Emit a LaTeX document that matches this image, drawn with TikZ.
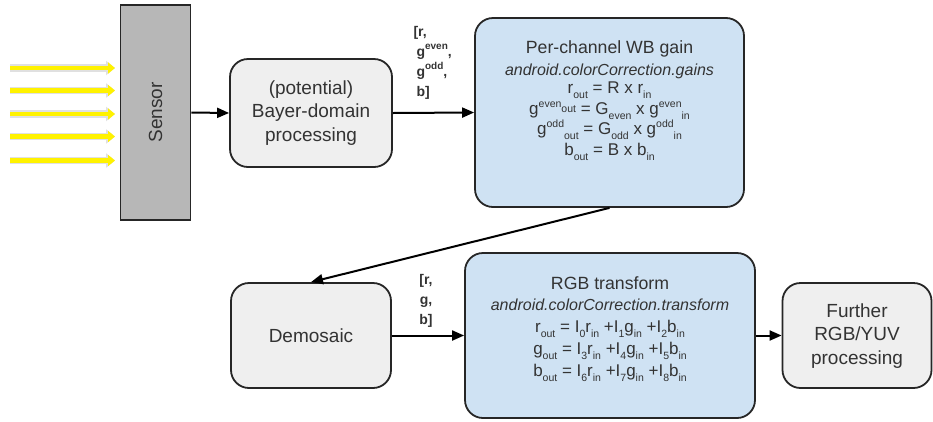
\documentclass[tikz,border=0pt]{standalone}
\usepackage{fontspec}
\setmainfont{Liberation Sans}
\usetikzlibrary{arrows.meta}
\definecolor{boxgray}{RGB}{239,239,239}
\definecolor{boxblue}{RGB}{207,226,243}
\definecolor{sensorgray}{RGB}{183,183,183}
\definecolor{txt}{RGB}{51,51,51}
\newcommand\sbs[1]{\smash{\raisebox{-0.3em}{\fontsize{10.5}{10.5}\selectfont #1}}}
\newcommand\sps[1]{\smash{\raisebox{0.4em}{\fontsize{10.5}{10.5}\selectfont #1}}}
\newcommand\mps[1]{\smash{\raisebox{0.12em}{\fontsize{10.5}{10.5}\selectfont #1}}}
\newcommand\lsps[1]{\smash{\raisebox{0.5em}{\fontsize{10}{10}\selectfont\bfseries #1}}}
\begin{document}
\begin{tikzpicture}[x=1pt,y=-1pt,
  box/.style={draw=black!85, line width=1.8pt, rounded corners=18pt, inner sep=0pt, text=txt, align=center},
  graybox/.style={box, fill=boxgray},
  bluebox/.style={box, fill=boxblue},
  big/.style={font=\fontsize{19}{23.5}\selectfont, text=txt, align=center},
  ttl/.style={font=\fontsize{17.7}{22}\selectfont, text=txt},
  ital/.style={font=\fontsize{16}{19}\selectfont\itshape, text=txt},
  eq/.style={font=\fontsize{17}{19}\selectfont, text=txt, inner sep=0pt},
  lbl/.style={font=\fontsize{14}{20}\selectfont\bfseries, text=txt},
  arr/.style={draw=black, line width=2pt, -{Triangle[length=12pt,width=10pt]}},
  light/.style={draw=yellow, line width=4.5pt, -{Triangle[length=7pt,width=11pt]},
    preaction={draw=black!12, line width=7.5pt, -{Triangle[length=9pt,width=14pt]}}}
]
\useasboundingbox (0,0) rectangle (933,421);

% boxes
\node[draw=black!85, line width=1.8pt, fill=sensorgray, minimum width=70pt, minimum height=215pt, inner sep=0pt] (sensor) at (155.5,112.5) {};
\node[big, rotate=90] (sensortxt) at (sensor.center) {Sensor};

\node[graybox, minimum width=162pt, minimum height=108pt] (bayer) at (311,113) {};
\node[big] (bayertxt) at (311,113) {(potential)\\Bayer-domain\\processing};

\node[bluebox, minimum width=269pt, minimum height=189pt] (wb) at (609.5,112.5) {};
\node[ttl] (wbtitle) at (609.5,49) {Per-channel WB gain};
\node[ital] (wbsub) at (609.5,71) {android.colorCorrection.gains};
\node[eq] (wbeq1) at (609.5,88) {r\sbs{out} = R x r\sbs{in}};
\node[eq] (wbeq2) at (609.5,110.5) {g\sps{even}\mps{out} = G\sbs{even} x g\sps{even}\sbs{in}};
\node[eq] (wbeq3) at (609.5,130.5) {g\sps{odd}\sbs{out} = G\sbs{odd} x g\sps{odd}\sbs{in}};
\node[eq] (wbeq4) at (609.5,149.5) {b\sbs{out} = B x b\sbs{in}};

\node[graybox, minimum width=160pt, minimum height=105pt] (demo) at (311,335.5) {};
\node[big] (demotxt) at (311,335.5) {Demosaic};

\node[bluebox, minimum width=290pt, minimum height=165pt] (rgb) at (610,335.5) {};
\node[ttl] (rgbtitle) at (610,283) {RGB transform};
\node[ital] (rgbsub) at (610,305) {android.colorCorrection.transform};
\node[eq] (rgbeq1) at (610,328) {r\sbs{out} = I\sbs{0}r\sbs{in} +I\sbs{1}g\sbs{in} +I\sbs{2}b\sbs{in}};
\node[eq] (rgbeq2) at (610,350) {g\sbs{out} = I\sbs{3}r\sbs{in} +I\sbs{4}g\sbs{in} +I\sbs{5}b\sbs{in}};
\node[eq] (rgbeq3) at (610,372) {b\sbs{out} = I\sbs{6}r\sbs{in} +I\sbs{7}g\sbs{in} +I\sbs{8}b\sbs{in}};

\node[graybox, minimum width=149pt, minimum height=105pt] (further) at (857,335.5) {};
\node[big] (furthertxt) at (857,336) {Further\\RGB/YUV\\processing};

% labels
\node[lbl, anchor=west, align=left] (lab1) at (410,63) {[r,\\\hspace{3pt}g\lsps{even},\\\hspace{3pt}g\lsps{odd},\\\hspace{3pt}b]};
\node[lbl, align=center] (lab2) at (426,301) {[r,\\g,\\b]};

% connectors
\draw[arr] (sensor.east) -- (bayer.west);
\draw[arr] (bayer.east) -- (wb.west);
\draw[arr] (wb.south) -- (demo.north);
\draw[arr] (demo.east) -- (rgb.west);
\draw[arr] (rgb.east) -- (further.west);

% light rays
\foreach \i/\y in {1/68,2/90.5,3/114,4/136.5,5/160.5}{
  \coordinate (ls\i) at (10,\y);
  \coordinate (le\i) at (115,\y);
  \draw[light] (ls\i) -- (le\i);
}
\end{tikzpicture}
\end{document}
